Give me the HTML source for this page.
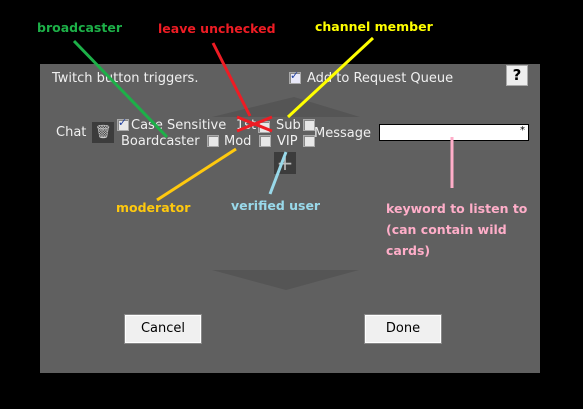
<!DOCTYPE html>
<html><head><style>
body{margin:0;width:583px;height:409px;background:#000;position:relative;overflow:hidden;font-family:"DejaVu Sans","Liberation Sans",sans-serif}
.a{position:absolute}
.p{left:40px;top:64px;width:500px;height:309px;background:#606060}
.t{color:#f0f0f0;font-size:13px;white-space:nowrap}
.cb{width:10px;height:10px;background:#e8e8e8;border:1px solid #aaa;box-shadow:inset 1px 1px 0 #888}
.btn{background:#f0f0f0;border:1px solid #fff;outline:1px solid #888;font-size:13px;color:#000;text-align:center;line-height:26px}
.an{font-weight:bold;font-size:12.5px;white-space:nowrap}
</style></head><body>
<div class="a p"></div>
<svg class="a" style="left:0;top:0" width="583" height="409">
<polygon points="212,117 294,97 360,117" fill="#555"/>
<polygon points="212,270 359,270 286,290" fill="#555"/>
</svg>
<div class="a t" style="left:52px;top:71px">Twitch button triggers.</div>
<div class="a cb" style="left:289px;top:72px;background:#e8e8f8"></div>
<div class="a" style="left:290px;top:69px;font-size:11px;color:#2040a0">✓</div>
<div class="a t" style="left:307px;top:71px">Add to Request Queue</div>
<div class="a" style="left:506px;top:65px;width:20px;height:19px;background:#eee;border:1px solid #aaa;font-weight:bold;text-align:center;font-size:15px;line-height:19px">?</div>
<div class="a t" style="left:56px;top:125px">Chat</div>
<div class="a" style="left:92px;top:122px;width:22px;height:21px;background:#3c3c3c;color:#ccc;text-align:center;font-size:13px;line-height:21px">🗑</div>
<div class="a cb" style="left:117px;top:119px"></div>
<div class="a" style="left:118px;top:116px;font-size:11px;color:#2040a0">✓</div>
<div class="a t" style="left:131px;top:118px">Case Sensitive</div>
<div class="a t" style="left:236px;top:118px">1st</div>
<div class="a cb" style="left:258px;top:121px"></div>
<div class="a t" style="left:276px;top:118px">Sub</div>
<div class="a cb" style="left:303px;top:119px"></div>
<div class="a t" style="left:121px;top:134px">Boardcaster</div>
<div class="a cb" style="left:207px;top:135px"></div>
<div class="a t" style="left:224px;top:134px">Mod</div>
<div class="a cb" style="left:259px;top:135px"></div>
<div class="a t" style="left:277px;top:134px">VIP</div>
<div class="a cb" style="left:303px;top:135px"></div>
<div class="a t" style="left:314px;top:126px">Message</div>
<div class="a" style="left:379px;top:124px;width:150px;height:17px;background:#fff;border:1px solid #000;font-size:10px;text-align:right;box-sizing:border-box;padding-right:3px">*</div>
<div class="a" style="left:274px;top:152px;width:22px;height:22px;background:#3c3c3c;color:#bbb;text-align:center;font-size:20px;line-height:22px">+</div>
<div class="a btn" style="left:125px;top:315px;width:74px;height:26px">Cancel</div>
<div class="a btn" style="left:365px;top:315px;width:74px;height:26px">Done</div>
<svg class="a" style="left:0;top:0" width="583" height="409">
<g stroke-width="3" fill="none">
<line x1="74" y1="41" x2="167" y2="137" stroke="#1db048"/>
<line x1="213" y1="43" x2="250" y2="116" stroke="#ee1c24"/>
<line x1="237" y1="117" x2="272" y2="131" stroke="#ee1c24"/>
<line x1="237" y1="131" x2="272" y2="117" stroke="#ee1c24"/>
<line x1="373" y1="38" x2="288" y2="117" stroke="#ffff00"/>
<line x1="236" y1="149" x2="157" y2="200" stroke="#ffc90e"/>
<line x1="286" y1="152" x2="270" y2="194" stroke="#99d9ea"/>
<line x1="452" y1="137" x2="452" y2="188" stroke="#ffaec9"/>
</g></svg>
<div class="a an" style="left:37px;top:20px;color:#1db048">broadcaster</div>
<div class="a an" style="left:158px;top:21px;color:#ee1c24">leave unchecked</div>
<div class="a an" style="left:315px;top:19px;color:#ffff00">channel member</div>
<div class="a an" style="left:116px;top:200px;color:#ffc90e">moderator</div>
<div class="a an" style="left:231px;top:198px;color:#99d9ea">verified user</div>
<div class="a an" style="left:386px;top:198px;color:#ffaec9;line-height:21px">keyword to listen to<br>(can contain wild<br>cards)</div>
</body></html>
